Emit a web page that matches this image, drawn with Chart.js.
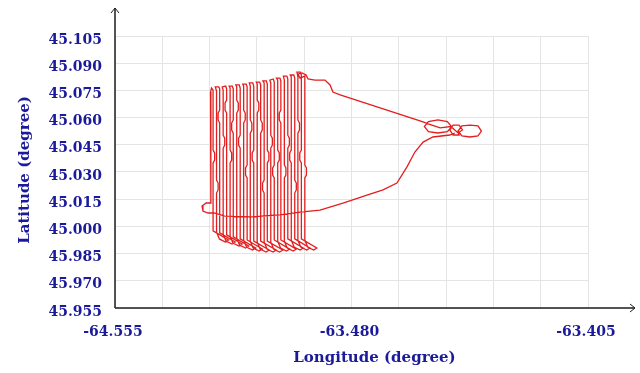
<!DOCTYPE html>
<html>
<head>
<meta charset="utf-8">
<script src="https://cdn.jsdelivr.net/npm/chart.js@4/dist/chart.umd.min.js"></script>
<style>
html, body { margin: 0; padding: 0; background: #fff; }
canvas { display: block; }
</style>
</head>
<body>
<canvas id="track" width="640" height="373"></canvas>
<script>
// Axis ticks (values) and the labels printed beside them
const lonTickValues = [-63.555, -63.540, -63.525, -63.510, -63.495, -63.480, -63.465, -63.450, -63.435, -63.420, -63.405];
const lonTickLabels = ['-64.555', '', '', '', '', '-63.480', '', '', '', '', '-63.405'];
const latTickValues = [44.955, 44.970, 44.985, 45.000, 45.015, 45.030, 45.045, 45.060, 45.075, 45.090, 45.105];
const latTickLabels = ['45.955', '45.970', '45.985', '45.000', '45.015', '45.030', '45.045', '45.060', '45.075', '45.090', '45.105'];

const xTitle = 'Longitude (degree)';
const yTitle = 'Latitude (degree)';

// GPS fixes [longitude, latitude], in the order they were logged
const harbourLoops = [
  [-63.4462, 45.0526], [-63.4450, 45.0499], [-63.4424, 45.0493], [-63.4399, 45.0499],
  [-63.4388, 45.0526], [-63.4399, 45.0554], [-63.4424, 45.0559], [-63.4450, 45.0554],
  [-63.4462, 45.0526], [-63.4459, 45.0504], [-63.4478, 45.0504], [-63.4488, 45.0532],
  [-63.4478, 45.0559], [-63.4459, 45.0559], [-63.4448, 45.0532], [-63.4462, 45.0515],
  [-63.4483, 45.0548], [-63.4496, 45.0523], [-63.4526, 45.0515], [-63.4556, 45.0523],
  [-63.4569, 45.0551], [-63.4556, 45.0578], [-63.4526, 45.0587], [-63.4496, 45.0578],
  [-63.4483, 45.0551], [-63.4519, 45.0543], [-63.4557, 45.0565], [-63.4573, 45.0576]
];

const outboundLeg = [
  [-63.4836, 45.0725], [-63.4859, 45.0741], [-63.4868, 45.0780], [-63.4884, 45.0807],
  [-63.4916, 45.0807]
];

// Survey lines, east to west: each line runs the full height, then turns
const surveyLines = [
  [-63.4938, 45.0813], [-63.4944, 45.0835], [-63.4957, 45.0846], [-63.4970, 45.0840], [-63.4963, 45.0818],
  [-63.4948, 45.0829], [-63.4948, 45.0339], [-63.4943, 45.0322], [-63.4943, 45.0283], [-63.4948, 45.0267], [-63.4948, 44.9925],
  [-63.4939, 44.9886], [-63.4920, 44.9870], [-63.4910, 44.9881],
  [-63.4959, 44.9931], [-63.4959, 45.0350], [-63.4964, 45.0366], [-63.4964, 45.0405], [-63.4959, 45.0421], [-63.4959, 45.0835],
  [-63.4962, 45.0851], [-63.4973, 45.0851],
  [-63.4970, 45.0824], [-63.4970, 45.0587], [-63.4965, 45.0570], [-63.4965, 45.0531], [-63.4970, 45.0514], [-63.4970, 44.9925],
  [-63.4961, 44.9886], [-63.4942, 44.9870], [-63.4932, 44.9881],
  [-63.4980, 44.9931], [-63.4980, 45.0184], [-63.4975, 45.0201], [-63.4975, 45.0239], [-63.4980, 45.0256], [-63.4980, 45.0818],
  [-63.4983, 45.0835], [-63.4994, 45.0835],
  [-63.4991, 45.0824], [-63.4991, 45.0421], [-63.4996, 45.0405], [-63.4996, 45.0366], [-63.4991, 45.0350], [-63.4991, 44.9925],
  [-63.4982, 44.9886], [-63.4963, 44.9870], [-63.4953, 44.9881],
  [-63.5002, 44.9931], [-63.5002, 45.0432], [-63.4997, 45.0449], [-63.4997, 45.0487], [-63.5002, 45.0503], [-63.5002, 45.0813],
  [-63.5005, 45.0829], [-63.5016, 45.0829],
  [-63.5013, 45.0807], [-63.5013, 45.0339], [-63.5008, 45.0322], [-63.5008, 45.0283], [-63.5013, 45.0267], [-63.5013, 44.9919],
  [-63.5004, 44.9881], [-63.4985, 44.9864], [-63.4975, 44.9875],
  [-63.5024, 44.9925], [-63.5024, 45.0570], [-63.5029, 45.0587], [-63.5029, 45.0625], [-63.5024, 45.0642], [-63.5024, 45.0802],
  [-63.5027, 45.0818], [-63.5038, 45.0818],
  [-63.5034, 45.0807], [-63.5034, 45.0421], [-63.5029, 45.0405], [-63.5029, 45.0366], [-63.5034, 45.0350], [-63.5034, 44.9919],
  [-63.5025, 44.9881], [-63.5006, 44.9864], [-63.4996, 44.9875],
  [-63.5045, 44.9925], [-63.5045, 45.0267], [-63.5050, 45.0283], [-63.5050, 45.0322], [-63.5045, 45.0339], [-63.5045, 45.0796],
  [-63.5048, 45.0813], [-63.5059, 45.0807],
  [-63.5056, 45.0791], [-63.5056, 45.0503], [-63.5051, 45.0487], [-63.5051, 45.0449], [-63.5056, 45.0432], [-63.5056, 44.9914],
  [-63.5047, 44.9875], [-63.5028, 44.9859], [-63.5018, 44.9870],
  [-63.5067, 44.9919], [-63.5067, 45.0350], [-63.5062, 45.0366], [-63.5062, 45.0405], [-63.5067, 45.0421], [-63.5067, 45.0785],
  [-63.5070, 45.0802], [-63.5081, 45.0802],
  [-63.5077, 45.0791], [-63.5077, 45.0256], [-63.5082, 45.0239], [-63.5082, 45.0201], [-63.5077, 45.0184], [-63.5077, 44.9914],
  [-63.5068, 44.9875], [-63.5049, 44.9859], [-63.5039, 44.9870],
  [-63.5088, 44.9919], [-63.5088, 45.0514], [-63.5083, 45.0531], [-63.5083, 45.0570], [-63.5088, 45.0587], [-63.5088, 45.0780],
  [-63.5091, 45.0796], [-63.5102, 45.0796],
  [-63.5099, 45.0785], [-63.5099, 45.0697], [-63.5094, 45.0681], [-63.5094, 45.0642], [-63.5099, 45.0625], [-63.5099, 44.9914],
  [-63.5090, 44.9875], [-63.5071, 44.9859], [-63.5061, 44.9870],
  [-63.5110, 44.9919], [-63.5110, 45.0350], [-63.5115, 45.0366], [-63.5115, 45.0405], [-63.5110, 45.0421], [-63.5110, 45.0774],
  [-63.5113, 45.0791], [-63.5124, 45.0791],
  [-63.5121, 45.0774], [-63.5121, 45.0587], [-63.5116, 45.0570], [-63.5116, 45.0531], [-63.5121, 45.0514], [-63.5121, 44.9919],
  [-63.5112, 44.9881], [-63.5093, 44.9864], [-63.5083, 44.9875],
  [-63.5131, 44.9925], [-63.5131, 45.0267], [-63.5136, 45.0283], [-63.5136, 45.0322], [-63.5131, 45.0339], [-63.5131, 45.0769],
  [-63.5134, 45.0785], [-63.5145, 45.0785],
  [-63.5142, 45.0774], [-63.5142, 45.0642], [-63.5137, 45.0625], [-63.5137, 45.0587], [-63.5142, 45.0570], [-63.5142, 44.9925],
  [-63.5133, 44.9886], [-63.5114, 44.9870], [-63.5104, 44.9881],
  [-63.5153, 44.9931], [-63.5153, 45.0432], [-63.5158, 45.0449], [-63.5158, 45.0487], [-63.5153, 45.0503], [-63.5153, 45.0763],
  [-63.5156, 45.0780], [-63.5167, 45.0780],
  [-63.5164, 45.0769], [-63.5164, 45.0697], [-63.5159, 45.0681], [-63.5159, 45.0642], [-63.5164, 45.0625], [-63.5164, 44.9936],
  [-63.5155, 44.9897], [-63.5136, 44.9881], [-63.5126, 44.9892],
  [-63.5175, 44.9942], [-63.5175, 45.0514], [-63.5180, 45.0531], [-63.5180, 45.0570], [-63.5175, 45.0587], [-63.5175, 45.0758],
  [-63.5178, 45.0774], [-63.5188, 45.0774],
  [-63.5185, 45.0763], [-63.5185, 45.0421], [-63.5180, 45.0405], [-63.5180, 45.0366], [-63.5185, 45.0350], [-63.5185, 44.9947],
  [-63.5176, 44.9908], [-63.5157, 44.9892], [-63.5147, 44.9903],
  [-63.5196, 44.9953], [-63.5196, 45.0625], [-63.5201, 45.0642], [-63.5201, 45.0681], [-63.5196, 45.0697], [-63.5196, 45.0758],
  [-63.5199, 45.0774], [-63.5210, 45.0769],
  [-63.5207, 45.0752], [-63.5207, 45.0503], [-63.5202, 45.0487], [-63.5202, 45.0449], [-63.5207, 45.0432], [-63.5207, 44.9958],
  [-63.5198, 44.9919], [-63.5179, 44.9903], [-63.5169, 44.9914],
  [-63.5218, 44.9964], [-63.5218, 45.0570], [-63.5223, 45.0587], [-63.5223, 45.0625], [-63.5218, 45.0642], [-63.5218, 45.0758],
  [-63.5221, 45.0769], [-63.5232, 45.0769],
  [-63.5228, 45.0747], [-63.5228, 45.0256], [-63.5223, 45.0239], [-63.5223, 45.0201], [-63.5228, 45.0184], [-63.5228, 44.9969],
  [-63.5219, 44.9931], [-63.5200, 44.9914], [-63.5190, 44.9925],
  [-63.5239, 44.9975], [-63.5239, 45.0350], [-63.5234, 45.0366], [-63.5234, 45.0405], [-63.5239, 45.0421], [-63.5239, 45.0752],
  [-63.5244, 45.0763], [-63.5247, 45.0741],
  [-63.5246, 45.0129], [-63.5261, 45.0129], [-63.5274, 45.0112], [-63.5271, 45.0085],
  [-63.5255, 45.0074], [-63.5236, 45.0074]
];

const returnLeg = [
  [-63.5201, 45.0057], [-63.5122, 45.0052], [-63.5027, 45.0063], [-63.4963, 45.0079],
  [-63.4900, 45.0090], [-63.4827, 45.0129], [-63.4751, 45.0173], [-63.4700, 45.0201],
  [-63.4656, 45.0239], [-63.4624, 45.0328], [-63.4599, 45.0410], [-63.4573, 45.0465],
  [-63.4542, 45.0493], [-63.4488, 45.0504], [-63.4472, 45.0515]
];

const trackPoints = [...harbourLoops, ...outboundLeg, ...surveyLines, ...returnLeg]
  .map(([lon, lat]) => ({ x: lon, y: lat }));

const labelColor = '#1a1a9a';
const tickFont = { family: '"DejaVu Serif", serif', size: 14, weight: 'bold' };
const titleFont = 'bold 15px "DejaVu Serif", serif';

// Black axis lines with open arrow heads, plus the two axis titles
const axisDecor = {
  id: 'axisDecor',
  afterDatasetsDraw(chart) {
    const { ctx, chartArea: a } = chart;
    ctx.save();
    ctx.strokeStyle = '#1e1e1e';
    ctx.lineWidth = 1.5;
    ctx.beginPath();
    ctx.moveTo(a.left, a.bottom);
    ctx.lineTo(a.left, a.top - 28);
    ctx.moveTo(a.left, a.bottom);
    ctx.lineTo(a.right + 47, a.bottom);
    ctx.stroke();
    ctx.lineWidth = 1;
    ctx.beginPath();
    ctx.moveTo(a.left - 4, a.top - 23);
    ctx.lineTo(a.left, a.top - 28);
    ctx.lineTo(a.left + 4, a.top - 23);
    ctx.moveTo(a.right + 42, a.bottom - 4);
    ctx.lineTo(a.right + 47, a.bottom);
    ctx.lineTo(a.right + 42, a.bottom + 4);
    ctx.stroke();

    ctx.fillStyle = labelColor;
    ctx.font = titleFont;
    ctx.textAlign = 'center';
    ctx.textBaseline = 'middle';
    ctx.fillText(xTitle, (a.left + a.right) / 2 + 23, a.bottom + 50);
    ctx.translate(25, (a.top + a.bottom) / 2 - 2);
    ctx.rotate(-Math.PI / 2);
    ctx.fillText(yTitle, 0, 0);
    ctx.restore();
  }
};

new Chart(document.getElementById('track'), {
  type: 'scatter',
  data: {
    datasets: [{
      data: trackPoints,
      showLine: true,
      borderColor: '#e31e1e',
      borderWidth: 1.3,
      pointRadius: 0,
      tension: 0,
      fill: false
    }]
  },
  options: {
    responsive: false,
    animation: false,
    devicePixelRatio: 1,
    layout: { padding: { top: 36, right: 52, left: 0, bottom: 0 } },
    plugins: { legend: { display: false }, tooltip: { enabled: false } },
    scales: {
      x: {
        type: 'linear',
        min: -63.555,
        max: -63.405,
        afterBuildTicks: (s) => { s.ticks = lonTickValues.map(v => ({ value: v })); },
        afterFit: (s) => { s.height = 65; },
        grid: { color: '#e4e4e4', lineWidth: 1, drawTicks: false },
        border: { display: false },
        ticks: {
          autoSkip: false,
          maxRotation: 0,
          padding: 16,
          labelOffset: -2,
          color: labelColor,
          font: tickFont,
          callback: (v, i) => lonTickLabels[i]
        }
      },
      y: {
        type: 'linear',
        min: 44.955,
        max: 45.105,
        afterBuildTicks: (s) => { s.ticks = latTickValues.map(v => ({ value: v })); },
        afterFit: (s) => { s.width = 115; },
        grid: { color: '#e4e4e4', lineWidth: 1, drawTicks: false },
        border: { display: false },
        ticks: {
          autoSkip: false,
          padding: 13,
          labelOffset: 4,
          color: labelColor,
          font: tickFont,
          callback: (v, i) => latTickLabels[i]
        }
      }
    }
  },
  plugins: [axisDecor]
});
</script>
</body>
</html>
